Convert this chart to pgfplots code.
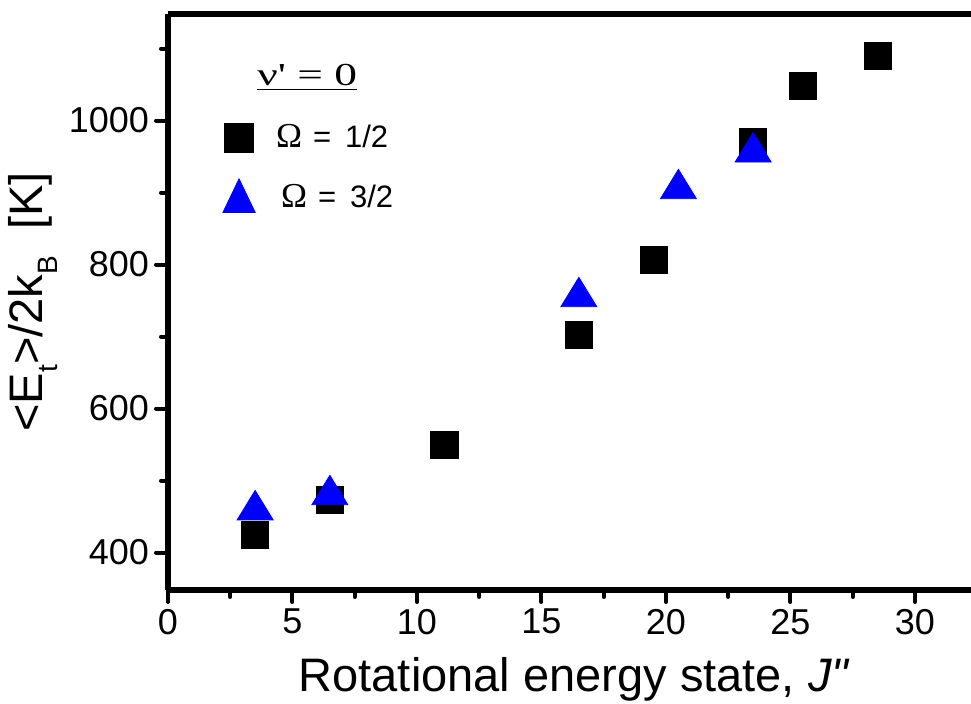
\documentclass[border=0pt]{standalone}
\usepackage{fontspec}
\setmainfont{Liberation Sans}
\newfontfamily\timesfont{Liberation Serif}[Ligatures=TeXOff]
\newfontfamily\nolig{Liberation Sans}[Ligatures=TeXOff]
\usepackage{graphicx}
\usepackage{pgfplots}
\pgfplotsset{compat=1.18}
\newcommand{\lsub}[1]{\raisebox{-0.6ex}{\fontsize{14}{14}\selectfont #1}}
\newcommand{\Om}{{\timesfont\fontsize{17.5}{18}\selectfont Ω}}
\begin{document}
\begin{tikzpicture}
\begin{axis}[
  scale only axis, width=401.5pt, height=288pt,
  xmin=0, xmax=32.25, ymin=348, ymax=1148,
  axis lines=left, axis line style={-, line width=2.8pt},
  xtick={0,5,...,30}, ytick={400,600,800,1000},
  minor xtick={2.5,7.5,...,27.5}, minor ytick={500,700,900,1100},
  tick align=outside,
  major tick length=6pt, minor tick length=3.5pt,
  every tick/.append style={black, line width=2pt, line cap=round},
  tick label style={font=\fontsize{18}{20}\selectfont},
  /pgf/number format/assume math mode=true,
  /pgf/number format/1000 sep={},
  xlabel={Rotational energy state, {\nolig\itshape J\char34}},
  ylabel={\textless E\lsub{t}\textgreater/2k\lsub{B}\ \ [K]},
  label style={font=\fontsize{23.5}{26}\selectfont},
  xlabel style={at={(rel axis cs:0.505,0)}, anchor=base, yshift=-51pt},
  ylabel style={at={([xshift=-67.5pt]rel axis cs:0,0.5)}, anchor=center},
  legend style={at={(axis cs:1.95,1006)}, anchor=north west, draw=none, fill=none,
    font=\fontsize{15.5}{18}\selectfont, row sep=12pt},
  legend cell align=left,
  clip=false,
]
\addplot[only marks, mark=square*, mark size=6.8pt, color=black,
  legend image code/.code={\draw[black, mark=square*, mark size=7.4pt] plot coordinates {(0.3cm,0cm)};}] coordinates {
  (3.5,425) (6.5,473) (11.1,549) (16.5,702) (19.5,806) (23.5,970) (25.5,1048) (28.5,1090)
};
\addlegendentry{\hspace{8.5pt}\Om\hspace{0.35em}=\hspace{0.45em}1/2}
\addplot[only marks, mark=triangle*, mark size=9.8pt, color=blue, mark options={xscale=1.06},
  legend image code/.code={\draw[blue, mark=triangle*, mark size=11.2pt, mark options={xscale=0.83}] plot coordinates {(0.3cm,-2pt)};}] coordinates {
  (3.5,459) (6.5,480) (16.5,755) (20.5,905) (23.5,956)
};
\addlegendentry{\hspace{11pt}\Om\hspace{0.35em}=\hspace{0.45em}3/2}
\draw[line width=2.8pt] (rel axis cs:0,1) -- (rel axis cs:1,1);
\node[anchor=base west, inner sep=0pt, font=\timesfont\fontsize{16}{19}\selectfont] at (axis cs:3.57,1048) {\scalebox{1.42}[1]{\underline{ν' = 0}}};
\end{axis}
\pgfresetboundingbox
\path ([shift={(-84pt,-57pt)}]current axis.south west) rectangle ([shift={(0pt,7pt)}]current axis.north east);
\end{tikzpicture}
\end{document}
